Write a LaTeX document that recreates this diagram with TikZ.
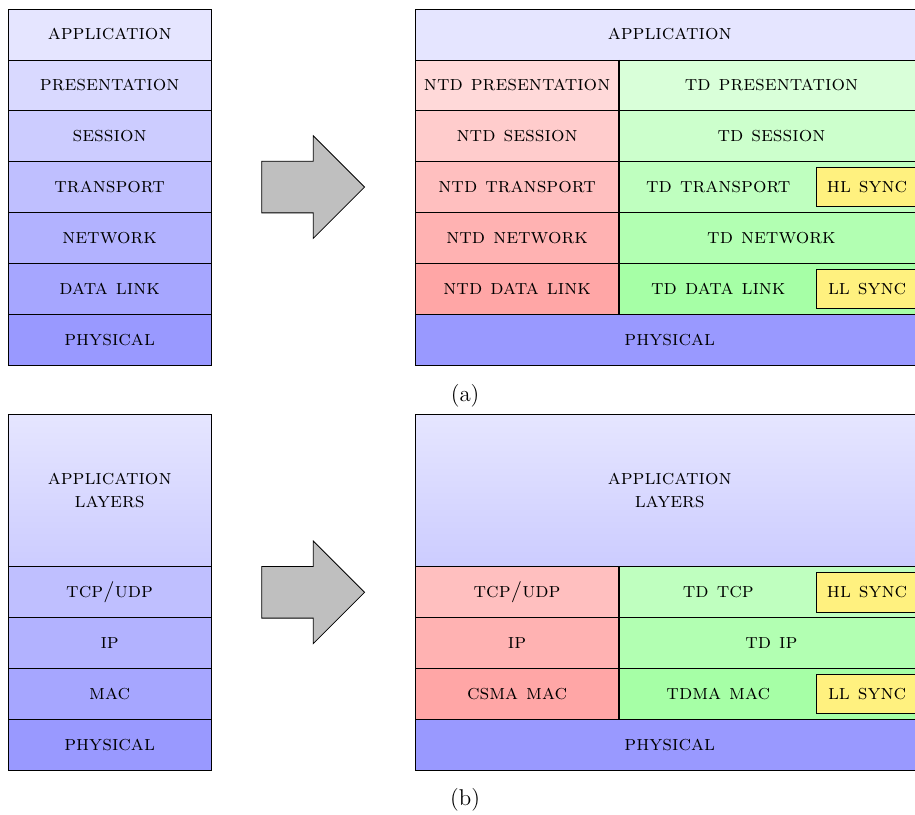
\documentclass[tikz,border=0pt]{standalone}
\usepackage{tikz}
\usetikzlibrary{positioning, shapes.arrows}
\definecolor{syncyellow}{HTML}{FFF17F}

\begin{document}
\begin{tikzpicture}[
    layer/.style={draw, fill=#1, minimum width=3.6cm, minimum height=0.9cm,
                  inner sep=0pt, outer sep=0pt, anchor=north west,
                  font=\fontsize{10.7}{11.3}\selectfont\scshape},
    wide/.style={layer=#1, minimum width=9cm},
    tdlayer/.style={layer=#1, minimum width=5.4cm},
    tdsync/.style={tdlayer=#1, execute at end node={\hspace*{1.88cm}}},
    appbox/.style={layer=blue!10, top color=blue!10, bottom color=blue!20,
                   minimum height=2.7cm, align=center},
    sync/.style={draw, fill=syncyellow, minimum width=1.8cm, minimum height=0.7cm,
                 inner sep=0pt, anchor=east, font=\fontsize{10.7}{11.3}\selectfont\scshape},
    bigarrow/.style={draw, fill=gray!50, single arrow, single arrow head extend=0.45cm,
                     minimum height=1.82cm, inner xsep=0pt, inner ysep=0.45cm, anchor=tip},
    caption/.style={font=\fontsize{11.5}{13.8}\selectfont},
]
    \useasboundingbox (0,0) rectangle (16.19,-14.41);

    \node[layer=blue!10] (app) at (0.14,-0.16) {application};
    \node[layer=blue!15, below=0pt of app] (pres) {presentation};
    \node[layer=blue!20, below=0pt of pres] (sess) {session};
    \node[layer=blue!25, below=0pt of sess] (trans) {transport};
    \node[layer=blue!30, below=0pt of trans] (net) {network};
    \node[layer=blue!35, below=0pt of net] (link) {data link};
    \node[layer=blue!40, below=0pt of link] (phys) {physical};

    \node[bigarrow] (arra) at (6.46,-3.31) {};

    \node[wide=blue!10] (rapp) at (7.35,-0.16) {application};
    \node[layer=red!15] (ntdpres) at (rapp.south west) {ntd presentation};
    \node[layer=red!20] (ntdsess) at (ntdpres.south west) {ntd session};
    \node[layer=red!25] (ntdtrans) at (ntdsess.south west) {ntd transport};
    \node[layer=red!30] (ntdnet) at (ntdtrans.south west) {ntd network};
    \node[layer=red!35] (ntdlink) at (ntdnet.south west) {ntd data link};
    \node[tdlayer=green!15] (tdpres) at (ntdpres.north east) {td presentation};
    \node[tdlayer=green!20] (tdsess) at (ntdsess.north east) {td session};
    \node[tdsync=green!25] (tdtrans) at (ntdtrans.north east) {td transport};
    \node[tdlayer=green!30] (tdnet) at (ntdnet.north east) {td network};
    \node[tdsync=green!35] (tdlink) at (ntdlink.north east) {td data link};
    \node[wide=blue!40] (rphys) at (ntdlink.south west) {physical};
    \node[sync] (hlsynca) at ([xshift=-0.1cm]tdtrans.east) {hl sync};
    \node[sync] (llsynca) at ([xshift=-0.1cm]tdlink.east) {ll sync};
    \draw[very thick] (ntdpres.north east) -- (ntdlink.south east);

    \node[caption] (capa) at (8.23,-7.01) {(a)};

    \node[appbox] (apps) at (0.14,-7.33) {application\\layers};
    \node[layer=blue!25, below=0pt of apps] (tcp) {tcp/udp};
    \node[layer=blue!30, below=0pt of tcp] (ip) {ip};
    \node[layer=blue!35, below=0pt of ip] (mac) {mac};
    \node[layer=blue!40, below=0pt of mac] (physb) {physical};

    \node[bigarrow] (arrb) at (6.46,-10.48) {};

    \node[appbox, minimum width=9cm] (rapps) at (7.35,-7.33) {application\\layers};
    \node[layer=red!25] (rtcp) at (rapps.south west) {tcp/udp};
    \node[layer=red!30] (rip) at (rtcp.south west) {ip};
    \node[layer=red!35] (csma) at (rip.south west) {csma mac};
    \node[tdsync=green!25] (tdtcp) at (rtcp.north east) {td tcp};
    \node[tdlayer=green!30] (tdip) at (rip.north east) {td ip};
    \node[tdsync=green!35] (tdma) at (csma.north east) {tdma mac};
    \node[wide=blue!40] (rphysb) at (csma.south west) {physical};
    \node[sync] (hlsyncb) at ([xshift=-0.1cm]tdtcp.east) {hl sync};
    \node[sync] (llsyncb) at ([xshift=-0.1cm]tdma.east) {ll sync};
    \draw[very thick] (rtcp.north east) -- (csma.south east);

    \node[caption] (capb) at (8.23,-14.16) {(b)};
\end{tikzpicture}
\end{document}
